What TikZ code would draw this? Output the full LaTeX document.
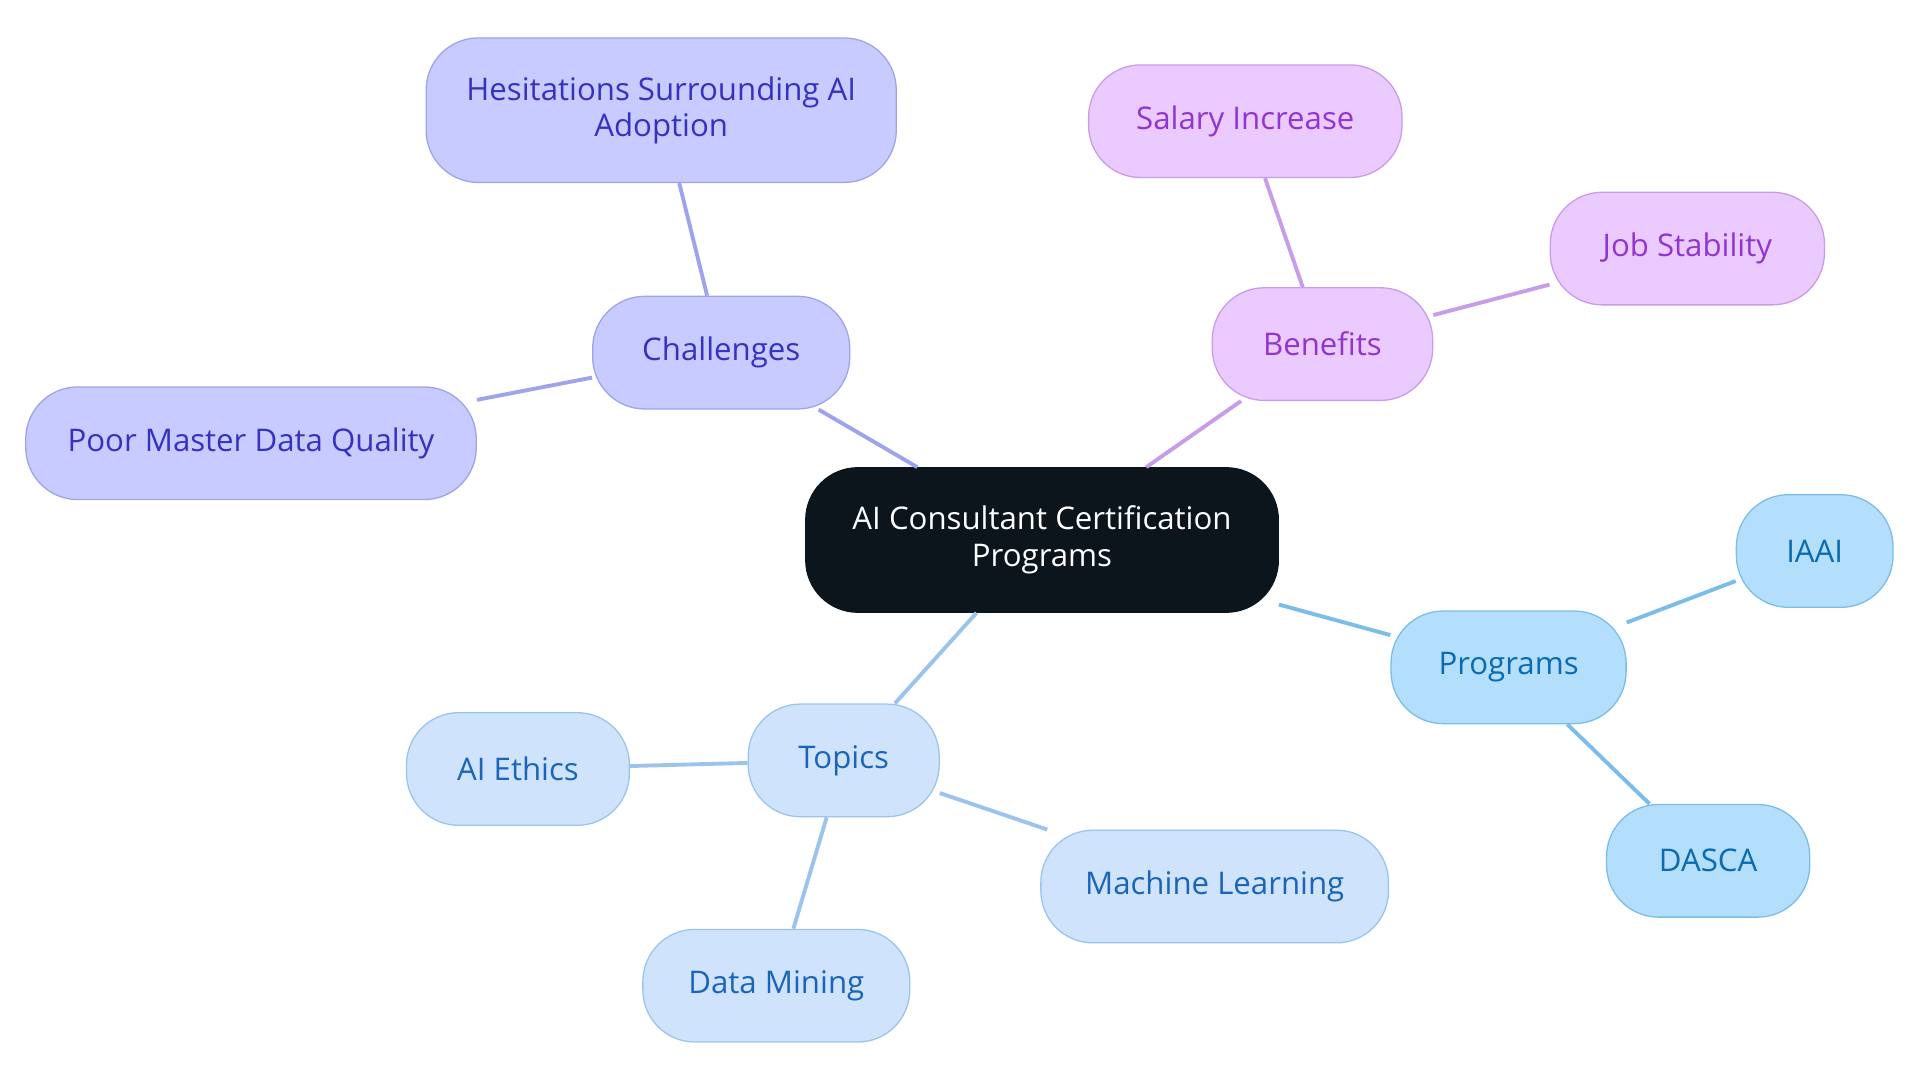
\documentclass[tikz,border=0pt]{standalone}
\usepackage{fontspec}
\setmainfont{Open Sans}
\usetikzlibrary{calc}
\definecolor{rootfill}{HTML}{0D151C}
\definecolor{chalfill}{HTML}{C8CBFF}\definecolor{chaldraw}{HTML}{9FA3EB}\definecolor{chaltext}{HTML}{3632C0}
\definecolor{benefill}{HTML}{EBCBFF}\definecolor{benedraw}{HTML}{C89CE8}\definecolor{benetext}{HTML}{9035D0}
\definecolor{progfill}{HTML}{B3DFFD}\definecolor{progdraw}{HTML}{7ABDE8}\definecolor{progtext}{HTML}{0C6AB0}
\definecolor{topifill}{HTML}{CFE4FC}\definecolor{topidraw}{HTML}{9CC3EC}\definecolor{topitext}{HTML}{1A65B8}

\begin{document}
\begin{tikzpicture}
    [x=0.02cm, y=-0.02cm,
     pill/.style={rectangle, rounded corners=0.85cm, minimum height=1.84cm, line width=0.6pt, align=center, font=\fontsize{14.5}{17}\selectfont},
     chal/.style={pill, fill=chalfill, draw=chaldraw, text=chaltext},
     bene/.style={pill, fill=benefill, draw=benedraw, text=benetext},
     prog/.style={pill, fill=progfill, draw=progdraw, text=progtext},
     topi/.style={pill, fill=topifill, draw=topidraw, text=topitext},
    ]
\useasboundingbox (0,0) rectangle (1568,884);

\node[pill, fill=rootfill, draw=rootfill, text=white, minimum width=7.72cm, minimum height=2.36cm] (root) at (851,441) {AI Consultant Certification\\Programs};

\node[chal, minimum width=4.2cm] (challenges) at (589,288) {Challenges};
\node[chal, minimum width=7.68cm, minimum height=2.36cm] (hesitations) at (540,90) {Hesitations Surrounding AI\\Adoption};
\node[chal, minimum width=7.36cm] (poordata) at (205,362) {Poor Master Data Quality};

\node[bene, minimum width=3.6cm] (benefits) at (1080,281) {Benefits};
\node[bene, minimum width=5.12cm] (salary) at (1017,99) {Salary Increase};
\node[bene, minimum width=4.48cm] (stability) at (1378,203) {Job Stability};

\node[prog, minimum width=3.84cm] (programs) at (1232,545) {Programs};
\node[prog, minimum width=2.56cm] (iaai) at (1482,450) {IAAI};
\node[prog, minimum width=3.32cm] (dasca) at (1395,703) {DASCA};

\node[topi, minimum width=3.12cm] (topics) at (689,621) {Topics};
\node[topi, minimum width=3.64cm] (ethics) at (423,628) {AI Ethics};
\node[topi, minimum width=5.68cm] (learning) at (992,724) {Machine Learning};
\node[topi, minimum width=4.36cm] (mining) at (634,805) {Data Mining};

\draw[chaldraw, line width=1.8pt] (root) -- (challenges) (challenges) -- (hesitations) (challenges) -- (poordata);
\draw[benedraw, line width=1.8pt] (root) -- (benefits) (benefits) -- (salary) (benefits) -- (stability);
\draw[progdraw, line width=1.8pt] (root) -- (programs) (programs) -- (iaai) (programs) -- (dasca);
\draw[topidraw, line width=1.8pt] (root) -- (topics) (topics) -- (ethics) (topics) -- (learning) (topics) -- (mining);

\end{tikzpicture}
\end{document}
